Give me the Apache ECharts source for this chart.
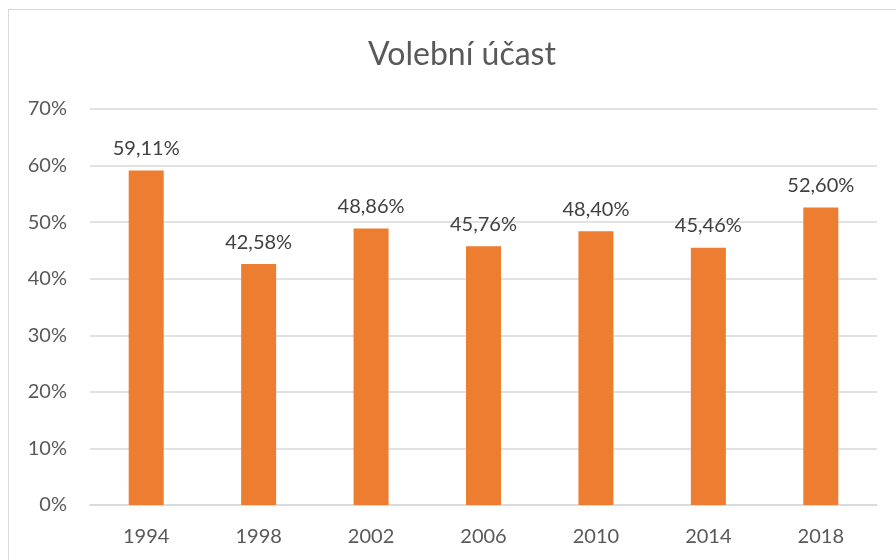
<!DOCTYPE html>
<html>
<head>
<meta charset="utf-8">
<script src="https://cdn.jsdelivr.net/npm/echarts@6/dist/echarts.min.js"></script>
<style>
  html, body { margin: 0; padding: 0; background: #fff; }
  #frame { position: absolute; left: 8px; top: 9px; width: 900px; height: 560px; border: 1px solid #d9d9d9; box-sizing: border-box; }
  #main { position: absolute; left: 0; top: 0; width: 896px; height: 560px; }
</style>
</head>
<body>
<div id="frame"></div>
<div id="main"></div>
<script type="text/javascript">
    // data
    var years = ['1994', '1998', '2002', '2006', '2010', '2014', '2018'];
    var turnout = [59.11, 42.58, 48.86, 45.76, 48.40, 45.46, 52.60];
    var yTicks = [0, 10, 20, 30, 40, 50, 60, 70];

    var font = 'Lato, "Open Sans", sans-serif';
    var myChart = echarts.init(document.getElementById('main'));
    var option = {
        animation: false,
        title: {
            text: 'Volební účast',
            left: 457,
            textAlign: 'center',
            top: 34,
            textStyle: { fontFamily: font, fontSize: 32, fontWeight: 'normal', color: '#595959' }
        },
        grid: { left: 90, right: 19, top: 109, bottom: 55 },
        xAxis: {
            type: 'category',
            data: years,
            axisTick: { show: false },
            axisLine: { show: true, lineStyle: { color: '#d9d9d9', width: 1.5 } },
            axisLabel: { margin: 22, fontFamily: font, fontSize: 20, color: '#595959' }
        },
        yAxis: {
            type: 'value',
            min: yTicks[0],
            max: yTicks[yTicks.length - 1],
            interval: 10,
            axisLine: { show: false },
            axisTick: { show: false },
            splitLine: { lineStyle: { color: '#d9d9d9', width: 1.5 } },
            axisLabel: { margin: 23, fontFamily: font, fontSize: 20, color: '#595959',
                formatter: function (v) { return v + '%'; } }
        },
        series: [{
            type: 'bar',
            data: turnout,
            barWidth: 35,
            itemStyle: { color: '#ED7D31' },
            label: {
                show: true,
                position: 'top',
                distance: 12,
                fontFamily: font,
                fontSize: 20,
                color: '#404040',
                formatter: function (p) { return p.value.toFixed(2).replace('.', ',') + '%'; }
            }
        }]
    };
    myChart.setOption(option);
</script>
</body>
</html>
